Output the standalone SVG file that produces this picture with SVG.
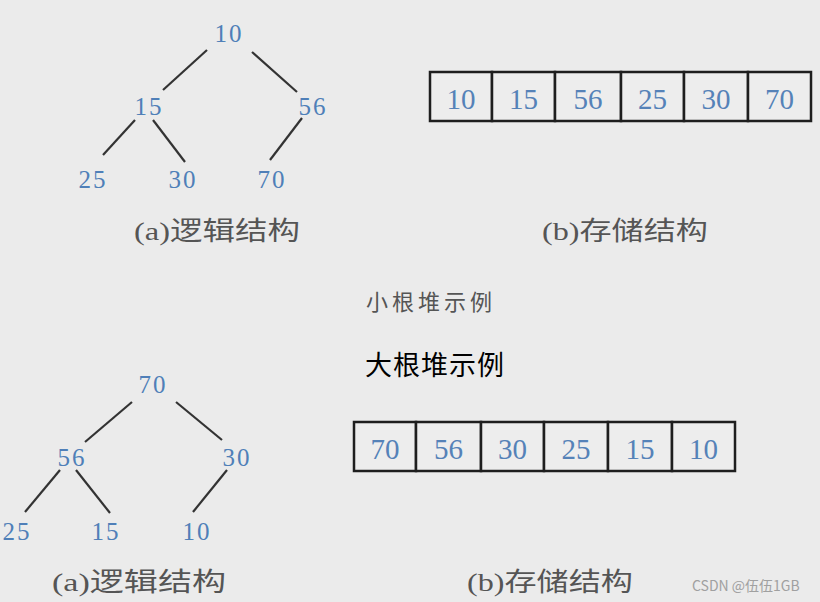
<svg xmlns="http://www.w3.org/2000/svg" width="820" height="602" viewBox="0 0 820 602">
<style>
.bg{fill:#ebebeb}
.num{font-family:"Liberation Serif","DejaVu Serif",serif;font-size:25px;fill:#4f7fb8;text-anchor:middle;letter-spacing:2px}
.cellnum{font-family:"Liberation Serif","DejaVu Serif",serif;font-size:29px;fill:#5582b8;text-anchor:middle}
.edge{stroke:#333;stroke-width:2.2;fill:none}
.cell{fill:#ededed;stroke:#1e1e1e;stroke-width:2.5}
.cap{font-family:"Liberation Serif","Noto Sans CJK SC",serif;font-size:26px;fill:#555}
.t1{font-family:"Noto Sans CJK SC","Noto Sans",sans-serif;font-size:22px;fill:#555;letter-spacing:4px}
.t2{font-family:"Noto Sans CJK SC","Noto Sans",sans-serif;font-size:27px;fill:#000;letter-spacing:1px}
.wm{font-family:"Noto Sans CJK SC","Liberation Sans",sans-serif;font-size:14px;fill:#a0a0a0}
</style>
<rect class="bg" x="0" y="0" width="820" height="602"/>

<g id="connectors">
<line class="edge" x1="207" y1="50" x2="163" y2="90"/>
<line class="edge" x1="252" y1="52" x2="297" y2="92"/>
<line class="edge" x1="135" y1="120" x2="103" y2="155"/>
<line class="edge" x1="153" y1="120" x2="185" y2="162"/>
<line class="edge" x1="302" y1="118" x2="270" y2="160"/>
<line class="edge" x1="132" y1="402" x2="85" y2="442"/>
<line class="edge" x1="176" y1="402" x2="222" y2="440"/>
<line class="edge" x1="60" y1="470" x2="25" y2="512"/>
<line class="edge" x1="76" y1="470" x2="110" y2="513"/>
<line class="edge" x1="227" y1="470" x2="193" y2="512"/>
</g>

<g id="t1-10"><text class="num" x="229" y="42">10</text></g>
<g id="t1-15"><text class="num" x="149" y="115">15</text></g>
<g id="t1-56"><text class="num" x="313" y="115">56</text></g>
<g id="t1-25"><text class="num" x="93" y="188">25</text></g>
<g id="t1-30"><text class="num" x="183" y="188">30</text></g>
<g id="t1-70"><text class="num" x="272" y="188">70</text></g>
<g id="cap1a"><text class="cap" x="134" y="240" textLength="166" lengthAdjust="spacingAndGlyphs">(a)逻辑结构</text></g>

<g id="arr1">
<rect class="cell" x="430" y="72" width="62" height="49"/>
<rect class="cell" x="492" y="72" width="63" height="49"/>
<rect class="cell" x="555" y="72" width="66" height="49"/>
<rect class="cell" x="621" y="72" width="63" height="49"/>
<rect class="cell" x="684" y="72" width="64" height="49"/>
<rect class="cell" x="748" y="72" width="63" height="49"/>
<text class="cellnum" x="461" y="109">10</text>
<text class="cellnum" x="523.5" y="109">15</text>
<text class="cellnum" x="588" y="109">56</text>
<text class="cellnum" x="652.5" y="109">25</text>
<text class="cellnum" x="716" y="109">30</text>
<text class="cellnum" x="779.5" y="109">70</text>
</g>
<g id="cap1b"><text class="cap" x="542" y="240" textLength="166" lengthAdjust="spacingAndGlyphs">(b)存储结构</text></g>

<g id="title1"><text class="t1" x="366" y="310">小根堆示例</text></g>
<g id="title2"><text class="t2" x="365" y="375">大根堆示例</text></g>

<g id="t2-70"><text class="num" x="153" y="393">70</text></g>
<g id="t2-56"><text class="num" x="72" y="466">56</text></g>
<g id="t2-30"><text class="num" x="237" y="466">30</text></g>
<g id="t2-25"><text class="num" x="17" y="540">25</text></g>
<g id="t2-15"><text class="num" x="106" y="540">15</text></g>
<g id="t2-10"><text class="num" x="197" y="540">10</text></g>
<g id="cap2a"><text class="cap" x="52" y="591" textLength="174" lengthAdjust="spacingAndGlyphs">(a)逻辑结构</text></g>

<g id="arr2">
<rect class="cell" x="354" y="422" width="62" height="49"/>
<rect class="cell" x="416" y="422" width="65" height="49"/>
<rect class="cell" x="481" y="422" width="63" height="49"/>
<rect class="cell" x="544" y="422" width="64" height="49"/>
<rect class="cell" x="608" y="422" width="64" height="49"/>
<rect class="cell" x="672" y="422" width="63" height="49"/>
<text class="cellnum" x="385" y="459">70</text>
<text class="cellnum" x="448.5" y="459">56</text>
<text class="cellnum" x="512.5" y="459">30</text>
<text class="cellnum" x="576" y="459">25</text>
<text class="cellnum" x="640" y="459">15</text>
<text class="cellnum" x="703.5" y="459">10</text>
</g>
<g id="cap2b"><text class="cap" x="467" y="591" textLength="166" lengthAdjust="spacingAndGlyphs">(b)存储结构</text></g>

<g id="watermark"><text class="wm" x="692" y="591">CSDN @伍伍1GB</text></g>
</svg>
